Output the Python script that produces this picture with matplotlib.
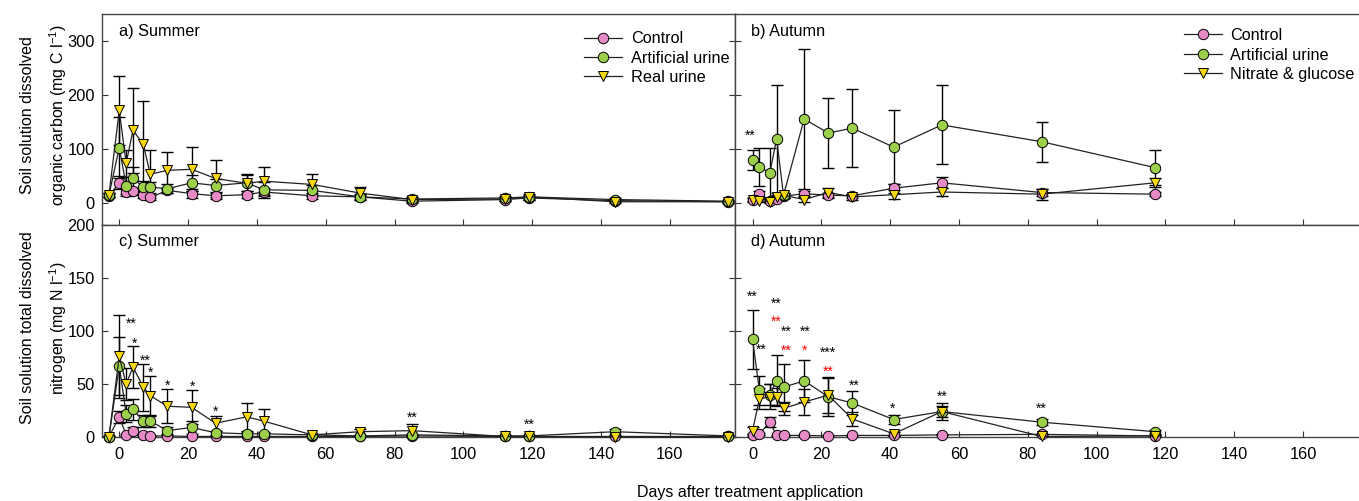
import matplotlib.pyplot as plt

plt.rcParams['font.family'] = ['Liberation Sans', 'DejaVu Sans']
plt.rcParams['mathtext.default'] = 'regular'

# ---- data ----
summer_days = [-3, 0, 2, 4, 7, 9, 14, 21, 28, 37, 42, 56, 70, 85, 112, 119, 144, 177]
autumn_days = [0, 2, 5, 7, 9, 15, 22, 29, 41, 55, 84, 117]

# a) DOC summer
doc_s_control = [14, 38, 21, 22, 16, 11, 24, 18, 14, 16, 21, 14, 12, 4, 7, 10, 5, 3]
doc_s_control_err = [3, 12, 8, 6, 6, 5, 5, 8, 6, 6, 8, 6, 4, 3, 3, 3, 2, 2]
doc_s_art = [15, 103, 33, 46, 30, 30, 27, 38, 33, 38, 25, 24, 12, 8, 10, 12, 7, 4]
doc_s_art_err = [4, 57, 15, 21, 12, 10, 8, 15, 12, 15, 15, 10, 6, 4, 3, 4, 3, 2]
doc_s_real = [15, 172, 74, 135, 109, 54, 61, 63, 46, 37, 41, 35, 19, 7, 8, 12, 3, 3]
doc_s_real_err = [4, 64, 25, 78, 80, 44, 34, 41, 35, 18, 26, 19, 12, 5, 4, 6, 3, 2]

# b) DOC autumn
doc_a_control = [6, 17, 5, 8, 13, 18, 15, 14, 28, 38, 20, 17]
doc_a_control_err = [3, 6, 3, 3, 4, 5, 5, 4, 8, 10, 6, 4]
doc_a_art = [80, 68, 56, 119, 15, 156, 130, 139, 104, 145, 114, 66]
doc_a_art_err = [18, 35, 47, 100, 5, 130, 65, 72, 69, 73, 37, 32]
doc_a_ng = [7, 5, 3, 11, 15, 7, 20, 12, 16, 21, 17, 38]
doc_a_ng_err = [3, 3, 3, 5, 5, 4, 8, 5, 8, 8, 10, 8]

# c) TDN summer
tdn_s_control = [0, 19, 2, 6, 2, 1, 1, 0.5, 0.5, 0.5, 0.5, 0.5, 0.5, 1, 0.5, 0.5, 0.5, 0.5]
tdn_s_control_err = [0.5, 6, 1, 3, 1, 0.5, 0.5, 0.5, 0.5, 0.5, 0.5, 0.5, 0.5, 0.5, 0.5, 0.5, 0.5, 0.5]
tdn_s_art = [0, 67, 22, 26, 15, 15, 6, 9, 4, 3, 3, 2, 1, 2, 1, 1, 5, 1]
tdn_s_art_err = [0.5, 27, 8, 10, 6, 6, 3, 6, 2, 2, 2, 1, 1, 1, 1, 1, 3, 1]
tdn_s_real = [0, 76, 50, 66, 47, 39, 29, 28, 13, 19, 15, 2, 5, 6, 0.5, 0.5, 0, 0]
tdn_s_real_err = [0.5, 39, 15, 20, 22, 19, 16, 16, 7, 13, 11, 1, 3, 6, 1, 1, 0.5, 0.5]

# d) TDN autumn
tdn_a_control = [2, 3, 14, 1.5, 1.5, 1.5, 1, 1.5, 1.5, 2, 2.5, 1]
tdn_a_control_err = [1, 1, 5, 0.5, 0.5, 0.5, 0.5, 0.5, 0.5, 0.5, 0.5, 0.5]
tdn_a_art = [92, 44, 40, 53, 47, 53, 38, 32, 16.5, 24, 14, 5]
tdn_a_art_err = [28, 14, 10, 24, 22, 20, 18, 11, 4, 5, 3, 2]
tdn_a_ng = [6, 36, 38, 38, 27, 33, 39.5, 17, 3, 24, 0.5, 1]
tdn_a_ng_err = [3, 10, 12, 8, 6, 12, 17, 7, 2, 8, 1, 1]

# significance marks: (day, value, text, colour)
stars_b = [(-0.7, 131, '**', 'black')]
stars_c = [(3.4, 110, '**', 'black'), (4.3, 91, '*', 'black'), (7.5, 75.5, '**', 'black'),
           (9.2, 64, '*', 'black'), (13.9, 52, '*', 'black'), (21.2, 51, '*', 'black'),
           (27.9, 27, '*', 'black'), (85, 22, '**', 'black'), (119, 15, '**', 'black')]
stars_d = [(0, 136, '**', 'black'), (2.6, 86, '**', 'black'), (6.8, 129, '**', 'black'),
           (6.8, 112, '**', 'red'), (9.9, 102.6, '**', 'black'), (9.9, 85, '**', 'red'),
           (15.2, 102.6, '**', 'black'), (15.2, 85, '*', 'red'), (22, 82.8, '***', 'black'),
           (22, 65, '**', 'red'), (29.6, 51.5, '**', 'black'), (40.7, 30, '*', 'black'),
           (55, 41.7, '**', 'black'), (84, 30, '**', 'black')]

PINK = '#E68BC6'
GREEN = '#9CCF4A'
YELLOW = '#F7D80C'

W, H = 1359, 501
fig = plt.figure(figsize=(W / 100, H / 100), dpi=100)


def px_axes(x0, y0, x1, y1):
    return fig.add_axes([x0 / W, 1 - y1 / H, (x1 - x0) / W, (y1 - y0) / H])


ax_a = px_axes(101.7, 14, 735.2, 225)
ax_b = px_axes(735, 14, 1368.5, 225)
ax_c = px_axes(101.7, 225, 735.2, 437)
ax_d = px_axes(735, 225, 1368.5, 437)


def series(ax, days, vals, err, color, marker, label):
    ax.errorbar(days, vals, yerr=err, fmt='none', ecolor='black', elinewidth=1,
                capsize=4.5, capthick=1, zorder=2)
    ax.plot(days, vals, '-', color='#222222', lw=0.9, marker=marker, ms=7.5,
            mfc=color, mec='black', mew=0.7, label=label, clip_on=False, zorder=3)


def stars(ax, marks):
    for d, v, s, c in marks:
        ax.annotate(s, (d, v), xytext=(0, -5.5), textcoords='offset points',
                    ha='center', va='baseline', fontsize=10, color=c)


series(ax_a, summer_days, doc_s_control, doc_s_control_err, PINK, 'o', 'Control')
series(ax_a, summer_days, doc_s_art, doc_s_art_err, GREEN, 'o', 'Artificial urine')
series(ax_a, summer_days, doc_s_real, doc_s_real_err, YELLOW, 'v', 'Real urine')

series(ax_b, autumn_days, doc_a_control, doc_a_control_err, PINK, 'o', 'Control')
series(ax_b, autumn_days, doc_a_art, doc_a_art_err, GREEN, 'o', 'Artificial urine')
series(ax_b, autumn_days, doc_a_ng, doc_a_ng_err, YELLOW, 'v', 'Nitrate & glucose')

series(ax_c, summer_days, tdn_s_control, tdn_s_control_err, PINK, 'o', 'Control')
series(ax_c, summer_days, tdn_s_art, tdn_s_art_err, GREEN, 'o', 'Artificial urine')
series(ax_c, summer_days, tdn_s_real, tdn_s_real_err, YELLOW, 'v', 'Real urine')

series(ax_d, autumn_days, tdn_a_control, tdn_a_control_err, PINK, 'o', 'Control')
series(ax_d, autumn_days, tdn_a_art, tdn_a_art_err, GREEN, 'o', 'Artificial urine')
series(ax_d, autumn_days, tdn_a_ng, tdn_a_ng_err, YELLOW, 'v', 'Nitrate & glucose')

stars(ax_b, stars_b)
stars(ax_c, stars_c)
stars(ax_d, stars_d)

for ax in (ax_a, ax_b, ax_c, ax_d):
    ax.set_xlim(-5.1, 179)
    ax.set_xticks(range(0, 161, 20))
    ax.tick_params(direction='in', length=4.5, width=0.8, top=False, right=True,
                   labelsize=11.8, color='#333333')
    ax.tick_params(axis='x', pad=7)
    ax.tick_params(axis='y', pad=5)
    for sp in ax.spines.values():
        sp.set_color('#444444')
        sp.set_linewidth(1)

for ax in (ax_a, ax_b):
    ax.set_ylim(-40, 350)
    ax.set_yticks([0, 100, 200, 300])
    ax.tick_params(labelbottom=False)
for ax in (ax_c, ax_d):
    ax.set_ylim(0, 200)
    ax.set_yticks([0, 50, 100, 150, 200])
for ax in (ax_b, ax_d):
    ax.tick_params(labelleft=False)

ax_a.text(0.027, 0.916, 'a) Summer', transform=ax_a.transAxes, fontsize=11.7, va='center')
ax_b.text(0.025, 0.916, 'b) Autumn', transform=ax_b.transAxes, fontsize=11.7, va='center')
ax_c.text(0.027, 0.921, 'c) Summer', transform=ax_c.transAxes, fontsize=11.7, va='center')
ax_d.text(0.025, 0.921, 'd) Autumn', transform=ax_d.transAxes, fontsize=11.7, va='center')

leg_kw = dict(frameon=False, fontsize=11.7, loc='upper left', borderpad=0, borderaxespad=0,
              handlelength=2.3, handletextpad=0.55, labelspacing=0.27, numpoints=1)
ax_a.legend(bbox_to_anchor=(0.762, 0.918), **leg_kw)
ax_b.legend(bbox_to_anchor=(0.709, 0.933), **leg_kw)

fig.text(28 / W, 1 - 115 / H, 'Soil solution dissolved', rotation=90, ha='center', va='center', fontsize=11.5)
fig.text(58 / W, 1 - 115 / H, 'organic carbon (mg C l$^{-1}$)', rotation=90, ha='center', va='center', fontsize=11.5)
fig.text(28 / W, 1 - 328 / H, 'Soil solution total dissolved', rotation=90, ha='center', va='center', fontsize=11.5)
fig.text(58 / W, 1 - 328 / H, 'nitrogen (mg N l$^{-1}$)', rotation=90, ha='center', va='center', fontsize=11.5)
fig.text(750 / W, 1 - 492 / H, 'Days after treatment application', ha='center', va='center', fontsize=11.5)

fig.savefig('out.png', dpi=100)
